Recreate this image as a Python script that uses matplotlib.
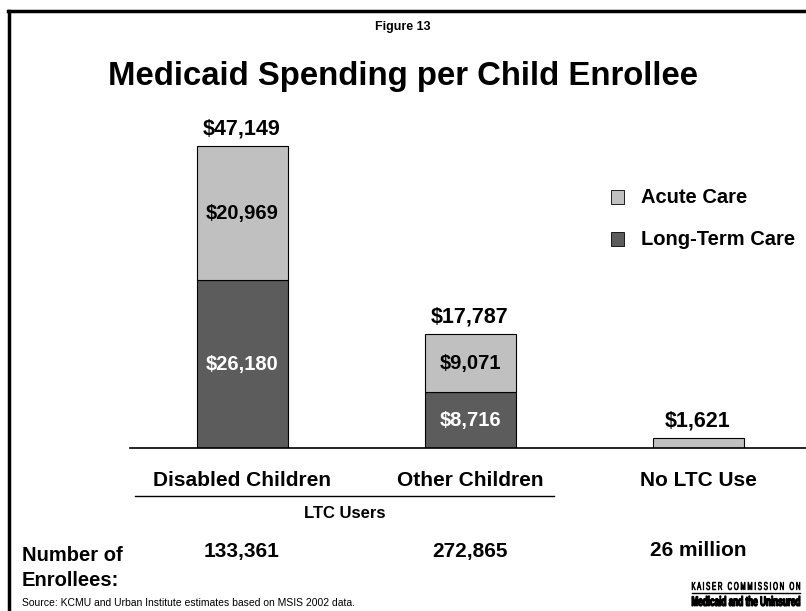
import matplotlib
matplotlib.use("Agg")
import matplotlib.pyplot as plt
from matplotlib.lines import Line2D
from matplotlib.patches import Rectangle, PathPatch
from matplotlib.textpath import TextPath
from matplotlib.font_manager import FontProperties
from matplotlib.transforms import Affine2D

plt.rcParams['font.family'] = ['Liberation Sans', 'DejaVu Sans']

# данные
groups = ['Disabled Children', 'Other Children', 'No LTC Use']
long_term = [26180, 8716, 0]
acute = [20969, 9071, 1621]
totals = [47149, 17787, 1621]
enrollees = ['133,361', '272,865', '26 million']

c_acute = '#c0c0c0'
c_ltc = '#5c5c5c'

fig = plt.figure(figsize=(8.06, 6.11), dpi=100)
W, H = 806, 611

def fx(px):
    return px / W

def fy(py):
    return 1 - py / H

# рамка слева и сверху
fig.add_artist(Line2D([fx(9), fx(9)], [fy(611), fy(11)], color='black', lw=2.5))
fig.add_artist(Line2D([fx(8), fx(806)], [fy(11), fy(11)], color='black', lw=2.5))

# оси: базовая линия y=448, от x=130 до правого края, шаг между столбиками 228 px
y_base, y_top = 448, 96
step = 228
x_left, x0 = 130, 242
ax = fig.add_axes([fx(x_left), fy(y_base), fx(806) - fx(x_left), (y_base - y_top) / H])
ymax = totals[0] * (y_base - y_top) / (y_base - 146)
ax.set_ylim(0, ymax)
ax.set_xlim((x_left - x0) / step, (806 - x0) / step)

x = range(len(groups))
w = 91 / step
ax.bar(x, long_term, w, color=c_ltc, edgecolor='black', linewidth=0.8)
ax.bar(x, acute, w, bottom=long_term, color=c_acute, edgecolor='black', linewidth=0.8)

for i in x:
    ax.text(i, totals[i] + ymax * 0.018, f'${totals[i]:,}', ha='center', va='bottom',
            fontsize=15.5, fontweight='bold')
    if long_term[i] > 0:
        ax.text(i, long_term[i] / 2, f'${long_term[i]:,}', ha='center', va='center',
                fontsize=14.5, fontweight='bold', color='white')
        ax.text(i, long_term[i] + acute[i] / 2, f'${acute[i]:,}', ha='center', va='center',
                fontsize=14.5, fontweight='bold', color='black')

for s in ['top', 'right', 'left']:
    ax.spines[s].set_visible(False)
ax.spines['bottom'].set_linewidth(1.2)
ax.set_yticks([])
ax.set_xticks([])

centers = [x0 + k * step for k in range(len(groups))]

# подписи категорий
for c, g in zip(centers, groups):
    fig.text(fx(c), fy(481), g, ha='center', va='center', fontsize=15, fontweight='bold')
fig.add_artist(Line2D([fx(135), fx(554)], [fy(496), fy(496)], color='black', lw=1))
fig.text(fx(345), fy(513), 'LTC Users', ha='center', va='center', fontsize=12, fontweight='bold')

fig.text(fx(22), fy(568), 'Number of\nEnrollees:', ha='left', va='center', fontsize=14.5,
         fontweight='bold', linespacing=1.35)
for c, e in zip(centers, enrollees):
    fig.text(fx(c), fy(551), e, ha='center', va='center', fontsize=15, fontweight='bold')

# легенда
for py, lab, c in [(197, 'Acute Care', c_acute), (239, 'Long-Term Care', c_ltc)]:
    fig.add_artist(Rectangle((fx(611), fy(py + 6.5)), fx(13), 13 / H, facecolor=c,
                             edgecolor='black', lw=0.6))
    fig.text(fx(641), fy(py), lab, ha='left', va='center', fontsize=14.5, fontweight='bold')

fig.text(fx(403), fy(27), 'Figure 13', ha='center', va='center', fontsize=9, fontweight='bold')
fig.text(fx(403), fy(76), 'Medicaid Spending per Child Enrollee', ha='center', va='center',
         fontsize=23.7, fontweight='bold')

fig.text(fx(22), fy(603), 'Source: KCMU and Urban Institute estimates based on MSIS 2002 data.',
         ha='left', va='center', fontsize=7.5)

# логотип: текст вписан в прямоугольник (в пикселях)
def fit_text(s, x1, x2, ytop, ybot, weight, lw):
    tp = TextPath((0, 0), s, size=10, prop=FontProperties(family='Liberation Sans', weight=weight))
    bb = tp.get_extents()
    tr = (Affine2D().translate(-bb.x0, -bb.y0)
          .scale((x2 - x1) / bb.width, (ybot - ytop) / bb.height)
          .translate(x1, H - ybot))
    fig.add_artist(PathPatch(tp, transform=tr, facecolor='black', edgecolor='black', lw=lw))

fit_text('K A I S E R   C O M M I S S I O N   O N', 692, 800, 582, 590, 'normal', 0.5)
fig.add_artist(Line2D([fx(692), fx(800)], [fy(592.5), fy(592.5)], color='black', lw=1))
fit_text('Medicaid and the Uninsured', 692, 800, 596, 606, 'bold', 0.9)

fig.savefig('out.png', dpi=100)
